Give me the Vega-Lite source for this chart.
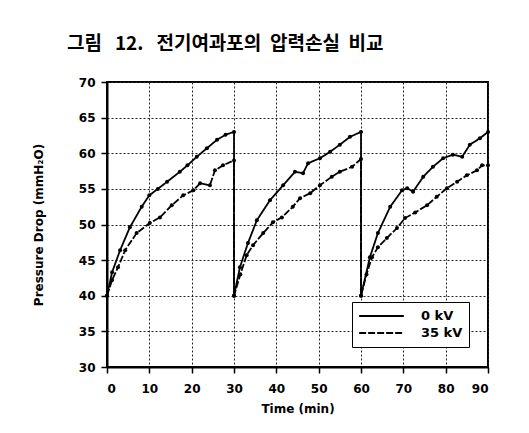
{
  "$schema": "https://vega.github.io/schema/vega-lite/v6.json",
  "width": 381,
  "height": 285,
  "autosize": {"type": "none"},
  "padding": {"left": 107, "top": 82, "right": 41, "bottom": 66},
  "background": "white",
  "title": {
    "text": "그림\u00a0\u00a0 12.\u00a0\u00a0 전기여과포의\u00a0 압력손실\u00a0 비교",
    "anchor": "start",
    "frame": "group",
    "dx": -40,
    "offset": 22,
    "font": "Noto Sans CJK KR",
    "fontSize": 19,
    "fontWeight": "bold",
    "color": "black"
  },
  "config": {
    "view": {"stroke": "black", "strokeWidth": 2},
    "axis": {
      "labelFont": "DejaVu Sans",
      "labelFontWeight": "bold",
      "labelFontSize": 12,
      "labelColor": "black",
      "titleFont": "DejaVu Sans",
      "titleFontWeight": "bold",
      "titleFontSize": 12,
      "titleColor": "black",
      "domainColor": "black",
      "domainWidth": 2,
      "tickColor": "black",
      "tickWidth": 1.5,
      "tickSize": 6,
      "gridColor": "#222222",
      "gridDash": [2, 2],
      "gridWidth": 1
    }
  },
  "data": {
    "values": [
      {"s": "0 kV", "i": 1, "t": 0, "v": 40},
      {"s": "0 kV", "i": 2, "t": 1.2, "v": 43.3},
      {"s": "0 kV", "i": 3, "t": 3.1, "v": 46.4},
      {"s": "0 kV", "i": 4, "t": 5.4, "v": 49.6},
      {"s": "0 kV", "i": 5, "t": 8.2, "v": 52.5},
      {"s": "0 kV", "i": 6, "t": 10, "v": 54.1},
      {"s": "0 kV", "i": 7, "t": 12, "v": 55},
      {"s": "0 kV", "i": 8, "t": 14.2, "v": 56},
      {"s": "0 kV", "i": 9, "t": 17.2, "v": 57.4},
      {"s": "0 kV", "i": 10, "t": 19, "v": 58.3},
      {"s": "0 kV", "i": 11, "t": 21.2, "v": 59.5},
      {"s": "0 kV", "i": 12, "t": 23.6, "v": 60.7},
      {"s": "0 kV", "i": 13, "t": 26, "v": 61.9},
      {"s": "0 kV", "i": 14, "t": 28, "v": 62.6},
      {"s": "0 kV", "i": 15, "t": 30, "v": 63},
      {"s": "0 kV", "i": 16, "t": 30, "v": 40},
      {"s": "0 kV", "i": 17, "t": 31.4, "v": 44},
      {"s": "0 kV", "i": 18, "t": 33.3, "v": 47.4},
      {"s": "0 kV", "i": 19, "t": 35.4, "v": 50.6},
      {"s": "0 kV", "i": 20, "t": 38.5, "v": 53.4},
      {"s": "0 kV", "i": 21, "t": 41.6, "v": 55.5},
      {"s": "0 kV", "i": 22, "t": 44.4, "v": 57.4},
      {"s": "0 kV", "i": 23, "t": 46.3, "v": 57.2},
      {"s": "0 kV", "i": 24, "t": 47.5, "v": 58.6},
      {"s": "0 kV", "i": 25, "t": 50.3, "v": 59.3},
      {"s": "0 kV", "i": 26, "t": 52.7, "v": 60.2},
      {"s": "0 kV", "i": 27, "t": 55, "v": 61.2},
      {"s": "0 kV", "i": 28, "t": 57.4, "v": 62.3},
      {"s": "0 kV", "i": 29, "t": 60, "v": 63},
      {"s": "0 kV", "i": 30, "t": 60, "v": 40},
      {"s": "0 kV", "i": 31, "t": 62.1, "v": 45.4},
      {"s": "0 kV", "i": 32, "t": 64, "v": 48.8},
      {"s": "0 kV", "i": 33, "t": 66.9, "v": 52.5},
      {"s": "0 kV", "i": 34, "t": 69.7, "v": 54.8},
      {"s": "0 kV", "i": 35, "t": 70.9, "v": 55.1},
      {"s": "0 kV", "i": 36, "t": 72.3, "v": 54.6},
      {"s": "0 kV", "i": 37, "t": 74.7, "v": 56.7},
      {"s": "0 kV", "i": 38, "t": 77, "v": 58.1},
      {"s": "0 kV", "i": 39, "t": 79.4, "v": 59.3},
      {"s": "0 kV", "i": 40, "t": 81.7, "v": 59.8},
      {"s": "0 kV", "i": 41, "t": 83.9, "v": 59.5},
      {"s": "0 kV", "i": 42, "t": 85.7, "v": 61.2},
      {"s": "0 kV", "i": 43, "t": 88.1, "v": 62.1},
      {"s": "0 kV", "i": 44, "t": 90, "v": 63},
      {"s": "35 kV", "i": 1, "t": 0, "v": 40},
      {"s": "35 kV", "i": 2, "t": 1.2, "v": 42.2},
      {"s": "35 kV", "i": 3, "t": 2.6, "v": 44},
      {"s": "35 kV", "i": 4, "t": 4.3, "v": 46.4},
      {"s": "35 kV", "i": 5, "t": 7, "v": 48.8},
      {"s": "35 kV", "i": 6, "t": 10.1, "v": 50.2},
      {"s": "35 kV", "i": 7, "t": 12.5, "v": 51},
      {"s": "35 kV", "i": 8, "t": 15.3, "v": 52.7},
      {"s": "35 kV", "i": 9, "t": 18, "v": 54.1},
      {"s": "35 kV", "i": 10, "t": 20.4, "v": 54.8},
      {"s": "35 kV", "i": 11, "t": 22, "v": 55.8},
      {"s": "35 kV", "i": 12, "t": 24.3, "v": 55.5},
      {"s": "35 kV", "i": 13, "t": 25.5, "v": 57.6},
      {"s": "35 kV", "i": 14, "t": 27.4, "v": 58.3},
      {"s": "35 kV", "i": 15, "t": 30, "v": 59},
      {"s": "35 kV", "i": 16, "t": 30, "v": 40},
      {"s": "35 kV", "i": 17, "t": 31.5, "v": 43},
      {"s": "35 kV", "i": 18, "t": 33, "v": 45.7},
      {"s": "35 kV", "i": 19, "t": 34.5, "v": 47.1},
      {"s": "35 kV", "i": 20, "t": 36.9, "v": 48.8},
      {"s": "35 kV", "i": 21, "t": 39.2, "v": 50.3},
      {"s": "35 kV", "i": 22, "t": 41.3, "v": 51},
      {"s": "35 kV", "i": 23, "t": 43.9, "v": 52.5},
      {"s": "35 kV", "i": 24, "t": 45.6, "v": 53.7},
      {"s": "35 kV", "i": 25, "t": 48, "v": 54.4},
      {"s": "35 kV", "i": 26, "t": 50.3, "v": 55.5},
      {"s": "35 kV", "i": 27, "t": 53.1, "v": 56.7},
      {"s": "35 kV", "i": 28, "t": 55, "v": 57.4},
      {"s": "35 kV", "i": 29, "t": 57.9, "v": 58.1},
      {"s": "35 kV", "i": 30, "t": 60, "v": 59.2},
      {"s": "35 kV", "i": 31, "t": 60, "v": 40},
      {"s": "35 kV", "i": 32, "t": 61.3, "v": 43},
      {"s": "35 kV", "i": 33, "t": 62.6, "v": 45.4},
      {"s": "35 kV", "i": 34, "t": 64, "v": 46.8},
      {"s": "35 kV", "i": 35, "t": 66.1, "v": 48.1},
      {"s": "35 kV", "i": 36, "t": 68.5, "v": 49.5},
      {"s": "35 kV", "i": 37, "t": 70.4, "v": 50.9},
      {"s": "35 kV", "i": 38, "t": 72.8, "v": 51.7},
      {"s": "35 kV", "i": 39, "t": 75.6, "v": 52.7},
      {"s": "35 kV", "i": 40, "t": 77.9, "v": 53.9},
      {"s": "35 kV", "i": 41, "t": 80.3, "v": 55.1},
      {"s": "35 kV", "i": 42, "t": 82.7, "v": 56},
      {"s": "35 kV", "i": 43, "t": 85, "v": 56.9},
      {"s": "35 kV", "i": 44, "t": 87.4, "v": 57.6},
      {"s": "35 kV", "i": 45, "t": 88.6, "v": 58.3},
      {"s": "35 kV", "i": 46, "t": 90, "v": 58.3}
    ]
  },
  "encoding": {
    "x": {
      "field": "t",
      "type": "quantitative",
      "scale": {"domain": [0, 90], "nice": false, "zero": false},
      "axis": {"values": [0, 10, 20, 30, 40, 50, 60, 70, 80, 90], "title": "Time (min)", "labelPadding": 10, "titlePadding": 9}
    },
    "y": {
      "field": "v",
      "type": "quantitative",
      "scale": {"domain": [30, 70], "nice": false, "zero": false},
      "axis": {"values": [30, 35, 40, 45, 50, 55, 60, 65, 70], "title": "Pressure Drop (mmH₂O)", "labelPadding": 6, "titleX": -62}
    },
    "order": {"field": "i", "type": "quantitative"}
  },
  "layer": [
    {
      "mark": {"type": "line", "color": "black", "strokeWidth": 1.8},
      "encoding": {
        "strokeDash": {
          "field": "s",
          "type": "nominal",
          "scale": {"domain": ["0 kV", "35 kV"], "range": [[1, 0], [7, 2]]},
          "legend": {
            "title": null,
            "orient": "none",
            "legendX": 245,
            "legendY": 220,
            "strokeColor": "black",
            "fillColor": "white",
            "padding": 6,
            "symbolType": "stroke",
            "symbolSize": 2000,
            "symbolStrokeWidth": 1.8,
            "symbolStrokeColor": "black",
            "labelFont": "DejaVu Sans",
            "labelFontWeight": "bold",
            "labelFontSize": 13,
            "labelColor": "black",
            "labelOffset": 16,
            "clipHeight": 16,
            "rowPadding": 1
          }
        }
      }
    },
    {
      "mark": {"type": "point", "filled": true, "color": "black", "size": 16, "opacity": 1},
      "encoding": {"detail": {"field": "s", "type": "nominal"}}
    }
  ]
}
